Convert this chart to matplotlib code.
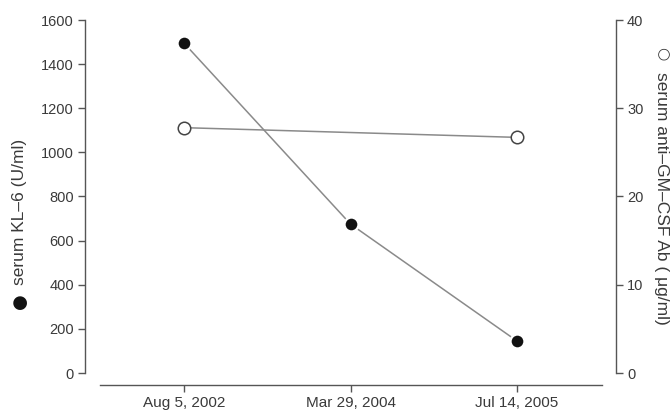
import matplotlib
matplotlib.use("Agg")
import matplotlib.pyplot as plt
import numpy as np

dates = ["Aug 5, 2002", "Mar 29, 2004", "Jul 14, 2005"]
kl6 = [1495, 675, 145]
gm_csf = [27.8, np.nan, 26.7]
kl6_ticks = [0, 200, 400, 600, 800, 1000, 1200, 1400, 1600]
gm_ticks = [0, 10, 20, 30, 40]

plt.rcParams['font.family'] = ['Liberation Sans', 'DejaVu Sans']
W, H = 672, 415
fig = plt.figure(figsize=(W / 100, H / 100), dpi=100)
ax = fig.add_axes([85 / W, (H - 373) / H, (616 - 85) / W, (373 - 20) / H])
ax2 = ax.twinx()

x = np.arange(len(dates))
tc = '#3a3a3a'
lc = '#8a8a8a'

ax.plot(x, kl6, color=lc, lw=1.1, marker='o', ms=10, mfc='#111111',
        mec='white', mew=1.6, zorder=3)
gm = np.array(gm_csf, dtype=float)
ok = ~np.isnan(gm)
ax2.plot(x[ok], gm[ok], color=lc, lw=1.1, marker='o', ms=9, mfc='white',
         mec='#444444', mew=1.1, zorder=3)

ax.set_xlim(-0.595, 2.595)
ax.set_ylim(0, 1600)
ax2.set_ylim(0, 40)
ax.set_yticks(kl6_ticks)
ax2.set_yticks(gm_ticks)
ax.set_xticks(x)
ax.set_xticklabels(dates)

for s in ['top', 'right']:
    ax.spines[s].set_visible(False)
for s in ['top', 'left', 'bottom']:
    ax2.spines[s].set_visible(False)
ax.spines['bottom'].set_position(('outward', 8.5))
ax.spines['bottom'].set_bounds(-0.505, 2.51)
for sp in [ax.spines['left'], ax.spines['bottom'], ax2.spines['right']]:
    sp.set_color('#555555')
    sp.set_linewidth(1.0)

ax.tick_params(axis='y', direction='out', length=5, width=1, colors='#555555',
               labelcolor=tc, labelsize=10.5, pad=3)
ax.tick_params(axis='x', direction='out', length=5, width=1, colors='#555555',
               labelcolor=tc, labelsize=11, pad=3)
ax2.tick_params(axis='y', direction='out', length=5, width=1, colors='#555555',
                labelcolor=tc, labelsize=10.5, pad=3)

# left axis label with filled-circle key
fig.text(20 / W, 1 - 212 / H, "serum KL–6 (U/ml)", rotation=90,
         ha='center', va='center', fontsize=12.5, color=tc)
fig.text(20 / W, 1 - 301 / H, "●", rotation=90, family='DejaVu Sans',
         ha='center', va='center', fontsize=13, color='#111111')
# right axis label with open-circle key
fig.text(662 / W, 1 - 198 / H, "serum anti–GM–CSF Ab ( μg/ml)", rotation=-90,
         ha='center', va='center', fontsize=12.5, color=tc)
fig.text(662 / W, 1 - 54 / H, "○", rotation=-90, family='DejaVu Sans',
         ha='center', va='center', fontsize=11, color=tc)

fig.savefig("out.png", dpi=100, facecolor='white')
